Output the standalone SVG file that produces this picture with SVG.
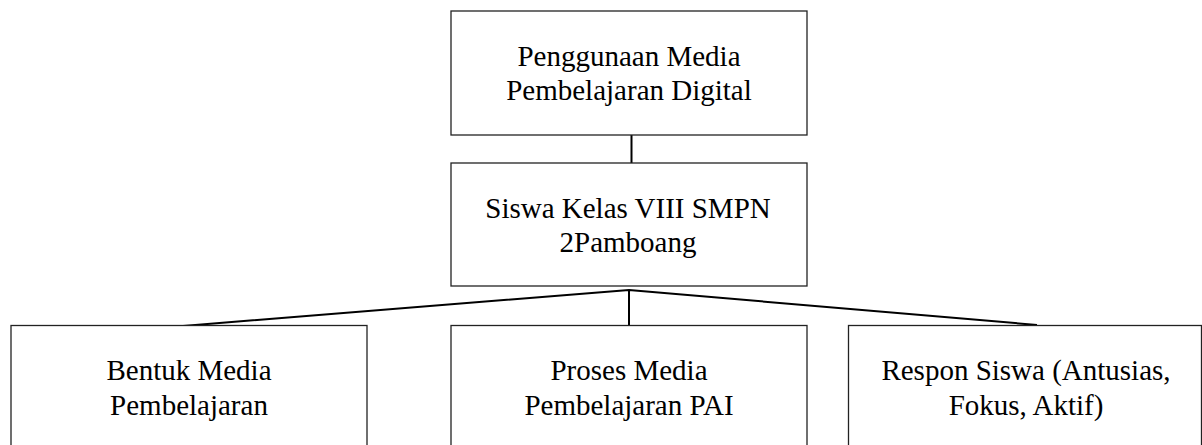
<svg xmlns="http://www.w3.org/2000/svg" width="1202" height="445" viewBox="0 0 1202 445">
<style>
.box{fill:#fff;stroke:#222;stroke-width:1.3}
.lbl{font-family:"Liberation Serif","Times New Roman",serif;font-size:29px;fill:#000;text-anchor:middle}
.con{stroke:#000;stroke-width:2;fill:none}
</style>
<rect width="1202" height="445" fill="#fff"/>
<g id="connectors">
<line class="con" x1="631.5" y1="135" x2="631.5" y2="163"/>
<polyline class="con" points="183,326 629,290 1037,325"/>
<line class="con" x1="629" y1="290" x2="629" y2="329"/>
</g>
<g id="node-top">
<rect class="box" x="451" y="11" width="356" height="124"/>
<text class="lbl" x="629" y="66">Penggunaan Media</text>
<text class="lbl" x="629" y="100">Pembelajaran Digital</text>
</g>
<g id="node-mid">
<rect class="box" x="451" y="163" width="356" height="123"/>
<text class="lbl" x="628" y="218">Siswa Kelas VIII SMPN</text>
<text class="lbl" x="628" y="252">2Pamboang</text>
</g>
<g id="node-left">
<rect class="box" x="11" y="325.5" width="356" height="140"/>
<text class="lbl" x="189" y="380">Bentuk Media</text>
<text class="lbl" x="189" y="415">Pembelajaran</text>
</g>
<g id="node-center">
<rect class="box" x="451" y="325.5" width="356" height="140"/>
<text class="lbl" x="629" y="380">Proses Media</text>
<text class="lbl" x="629" y="415">Pembelajaran PAI</text>
</g>
<g id="node-right">
<rect class="box" x="848.5" y="325.5" width="353" height="140"/>
<text class="lbl" x="1026" y="380">Respon Siswa (Antusias,</text>
<text class="lbl" x="1026" y="415">Fokus, Aktif)</text>
</g>
</svg>
